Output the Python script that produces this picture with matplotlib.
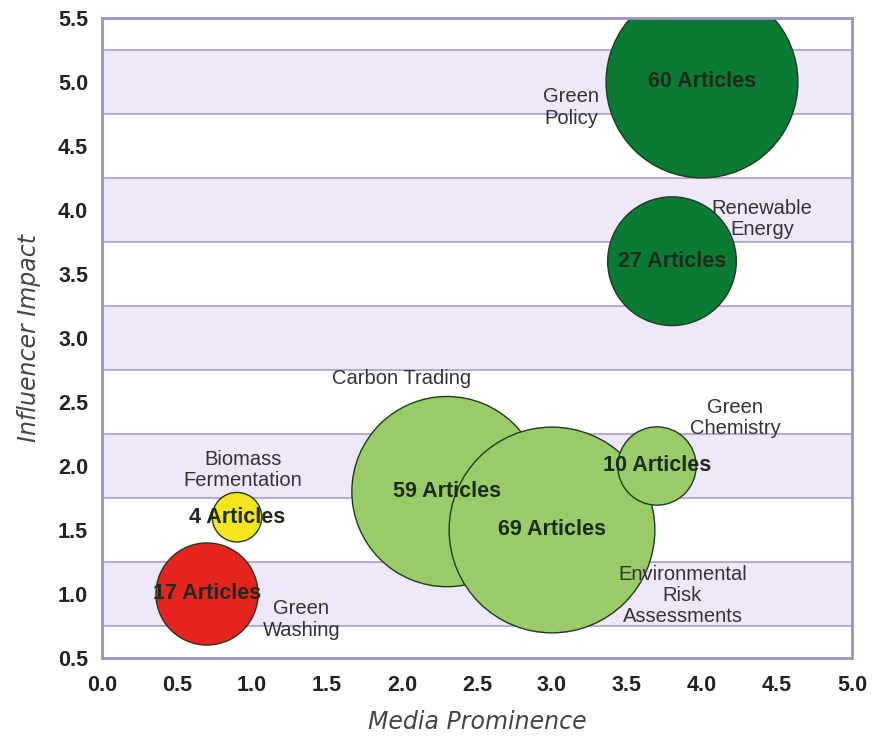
import matplotlib.pyplot as plt

# topics plotted as bubbles: area ~ article count
topics = ['Green\nPolicy', 'Renewable\nEnergy', 'Carbon Trading', 'Environmental\nRisk\nAssessments',
          'Green\nChemistry', 'Biomass\nFermentation', 'Green\nWashing']
prominence = [4.0, 3.8, 2.3, 3.0, 3.7, 0.9, 0.7]
impact = [5.0, 3.6, 1.8, 1.5, 2.0, 1.6, 1.0]
articles = [60, 27, 59, 69, 10, 4, 17]
colors = ['#0b7a35', '#0b7a35', '#9acb68', '#9acb68', '#9acb68', '#f5e51c', '#e6231f']

# where each topic name sits
name_x = [3.13, 4.4, 2.0, 3.87, 4.22, 0.94, 1.33]
name_y = [4.80, 3.93, 2.68, 0.99, 2.375, 1.97, 0.80]

plt.rcParams['font.family'] = ['Liberation Sans', 'DejaVu Sans']

fig = plt.figure(figsize=(8.74, 7.37), dpi=100)
ax = fig.add_axes([0.1167, 0.1072, 0.8581, 0.8684])

band = '#efe8fa'
line = '#a99dcb'
for lo in [0.75, 1.75, 2.75, 3.75, 4.75]:
    ax.axhspan(lo, lo + 0.5, color=band, zorder=0, lw=0)
for y in [0.75, 1.25, 1.75, 2.25, 2.75, 3.25, 3.75, 4.25, 4.75, 5.25]:
    ax.axhline(y, color=line, lw=1.2, zorder=0.5)

sizes = [n * 318 for n in articles]
ax.scatter(prominence, impact, s=sizes, c=colors, edgecolors='#1f3a1f', linewidths=1.0, zorder=2)

for x, y, n in zip(prominence, impact, articles):
    ax.text(x, y, f'{n} Articles', ha='center', va='center', fontsize=15.5,
            fontweight='bold', color='#1c2a1c', zorder=3)

for name, x, y in zip(topics, name_x, name_y):
    ax.text(x, y, name, ha='center', va='center', fontsize=14.5, color='#333333',
            linespacing=1.15, zorder=3)

ax.set_xlim(0, 5)
ax.set_ylim(0.5, 5.5)
ax.set_xticks([i * 0.5 for i in range(11)])
ax.set_yticks([0.5 + i * 0.5 for i in range(11)])
ax.xaxis.set_major_formatter(plt.FormatStrFormatter('%.1f'))
ax.yaxis.set_major_formatter(plt.FormatStrFormatter('%.1f'))
ax.tick_params(length=0, labelsize=15.5, colors='#222222')
ax.tick_params(axis='x', pad=12)
ax.tick_params(axis='y', pad=10)
for lab in ax.get_xticklabels() + ax.get_yticklabels():
    lab.set_fontweight('bold')

for sp in ax.spines.values():
    sp.set_color('#9d92c8')
    sp.set_linewidth(2)

ax.set_xlabel('Media Prominence', fontsize=17, style='italic', color='#444444',
              family='DejaVu Sans', labelpad=10)
ax.set_ylabel('Influencer Impact', fontsize=17, style='italic', color='#444444',
              family='DejaVu Sans', labelpad=12)

fig.savefig('out.png', dpi=100)
